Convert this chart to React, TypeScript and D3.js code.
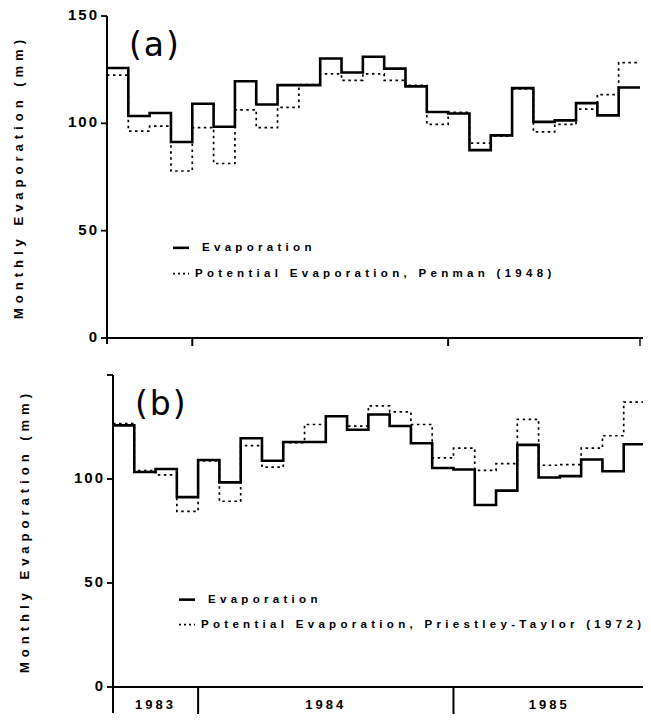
import * as d3 from "d3";

// monthly values, Sep 1983 .. Sep 1985
const evaporation = [125.8, 103.4, 104.8, 91.3, 109.1, 98.4, 119.6, 108.8, 117.8, 117.8, 130.2, 123.7, 131, 125.5, 117.2, 105.3, 104.6, 87.5, 94.4, 116.4, 100.7, 101.4, 109.4, 103.7, 116.7];
const penman = [122.5, 96.4, 98.7, 77.8, 98, 81.3, 106.3, 98, 107.4, 118, 123, 120, 123, 120, 117.7, 99.5, 105.1, 90.8, 94, 116, 96, 99.5, 106.6, 113.4, 128.3];
const priestley = [126.6, 104, 102, 84.4, 108.7, 89.3, 116, 105.7, 117.5, 126.2, 130.3, 125.4, 135.2, 132.3, 126.2, 110.2, 114.8, 104.1, 107.4, 128.7, 106.6, 106.9, 114.8, 120.8, 137];
const years = ["1983", "1984", "1985"];
const yearBounds = [0, 4, 16, 25]; // month index where each year starts / ends
const yTicks = [0, 50, 100, 150];

const font = "'Liberation Sans', Arial, sans-serif";

function Panel({ top, bottom, left, right, label, penLabel, pet, showTop, showYears }) {
  const x = d3.scaleLinear().domain([0, 25]).range([left, right]);
  const y = d3.scaleLinear().domain([0, 150]).range([bottom, top]);
  const line = d3
    .line()
    .x((d) => x(d[0]))
    .y((d) => y(d[1]))
    .curve(d3.curveStepAfter);
  const pts = (arr) => arr.map((v, i) => [i, v]).concat([[arr.length, arr[arr.length - 1]]]);
  const labels = yTicks.filter((t) => t < 150 || showTop);
  return (
    <g fontFamily={font} fontWeight="bold" fill="#000">
      {/* y axis */}
      <line x1={left} x2={left} y1={y(150)} y2={showYears ? bottom + 26 : bottom + 6} stroke="#000" strokeWidth={2} />
      {yTicks.map((t) => (
        <line key={t} x1={left - 6} x2={left} y1={y(t)} y2={y(t)} stroke="#000" strokeWidth={1.8} />
      ))}
      {labels.map((t) => (
        <text key={t} x={left - 8} y={y(t)} textAnchor="end" dominantBaseline="middle" fontSize={15} letterSpacing={2}>
          {t}
        </text>
      ))}
      <text
        transform={`translate(${left - 87},${(y(150) + bottom) / 2}) rotate(-90)`}
        textAnchor="middle"
        dominantBaseline="middle"
        fontSize={13}
        letterSpacing={5}
      >
        Monthly Evaporation (mm)
      </text>
      {/* x axis */}
      <line x1={left} x2={right + 4} y1={bottom} y2={bottom} stroke="#000" strokeWidth={1.8} />
      {yearBounds.slice(1).map((m, i) => (
        <line
          key={i}
          x1={x(m)}
          x2={x(m)}
          y1={bottom}
          y2={showYears ? bottom + 32 : bottom + 8}
          stroke="#000"
          strokeWidth={i === 2 ? 1.4 : 2}
        />
      ))}
      {showYears &&
        years.map((yr, i) => (
          <text
            key={yr}
            x={(x(yearBounds[i]) + x(yearBounds[i + 1])) / 2}
            y={bottom + 19}
            textAnchor="middle"
            dominantBaseline="middle"
            fontSize={13}
            letterSpacing={3}
          >
            {yr}
          </text>
        ))}
      {/* series */}
      <path d={line(pts(pet))} fill="none" stroke="#000" strokeWidth={1.7} strokeDasharray="2.5,3.5" />
      <path d={line(pts(evaporation))} fill="none" stroke="#000" strokeWidth={2.6} />
      {/* panel label */}
      <text x={left + 22} y={y(150) + 40} fontSize={33} fontWeight="normal" letterSpacing={2} fontFamily="'DejaVu Sans', sans-serif">
        {label}
      </text>
      {/* legend */}
      <g fontSize={11.5} letterSpacing={4.3}>
        <line x1={left + 66} x2={left + 82} y1={y(42)} y2={y(42)} stroke="#000" strokeWidth={2.6} />
        <text x={left + 95} y={y(42)} dominantBaseline="middle">
          Evaporation
        </text>
        <line x1={left + 66} x2={left + 82} y1={y(30)} y2={y(30)} stroke="#000" strokeWidth={1.6} strokeDasharray="2,3" />
        <text x={left + 88} y={y(30)} dominantBaseline="middle">
          {penLabel}
        </text>
      </g>
    </g>
  );
}

export default function App() {
  return (
    <svg width={651} height={722} style={{ display: "block", margin: "-8px" }} viewBox="0 0 651 722">
      <rect width={651} height={722} fill="#fff" />
      <Panel
        top={16}
        bottom={338}
        left={107}
        right={640}
        label="(a)"
        penLabel="Potential Evaporation, Penman (1948)"
        pet={penman}
        showTop={true}
        showYears={false}
      />
      <Panel
        top={375}
        bottom={687}
        left={113}
        right={645}
        label="(b)"
        penLabel="Potential Evaporation, Priestley-Taylor (1972)"
        pet={priestley}
        showTop={false}
        showYears={true}
      />
    </svg>
  );
}
